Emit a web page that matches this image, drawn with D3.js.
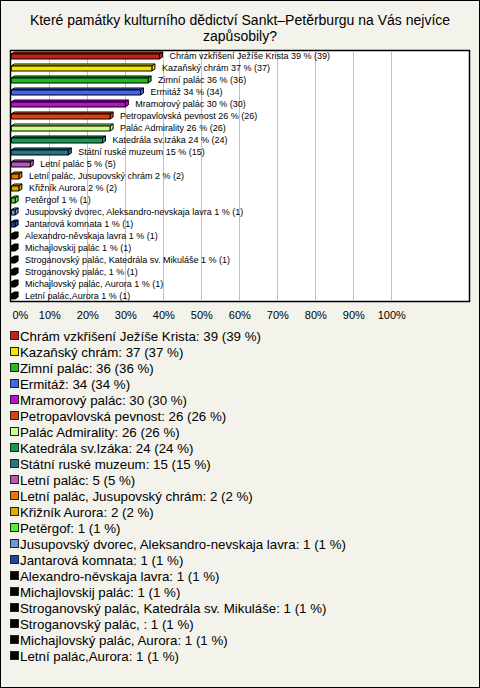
<!DOCTYPE html>
<html><head><meta charset="utf-8">
<script src="https://cdn.jsdelivr.net/npm/d3@7"></script>
<style>
html,body{margin:0;padding:0;background:#fff;}
svg{display:block;font-family:"Liberation Sans",Arial,sans-serif;}
</style></head>
<body>
<svg id="c" width="480" height="688"></svg>
<script>
const categories = [
  "Chrám vzkřišení Ježíše Krista","Kazaňský chrám","Zimní palác","Ermitáž","Mramorový palác",
  "Petropavlovská pevnost","Palác Admirality","Katedrála sv.Izáka","Státní ruské muzeum","Letní palác",
  "Letní palác, Jusupovský chrám","Křižník Aurora","Petěrgof","Jusupovský dvorec, Aleksandro-nevskaja lavra","Jantarová komnata",
  "Alexandro-něvskaja lavra","Michajlovskij palác","Stroganovský palác, Katedrála sv. Mikuláše","Stroganovský palác, ","Michajlovský palác, Aurora",
  "Letní palác,Aurora"
];
const barLabels = categories.slice();
const counts = [39,37,36,34,30,26,26,24,15,5,2,2,1,1,1,1,1,1,1,1,1];
const percents = [39,37,36,34,30,26,26,24,15,5,2,2,1,1,1,1,1,1,1,1,1];
const colors = ["#c8200c","#f5e400","#22bb22","#4466ee","#bb11cc","#e04010","#ccff88","#119955","#227788","#bb55bb",
  "#ee7700","#ddaa00","#55ee33","#6699dd","#2244aa","#000","#000","#000","#000","#000","#000"];
const tickValues = [0,10,20,30,40,50,60,70,80,90,100];
const tickLabels = ["0%","10%","20%","30%","40%","50%","60%","70%","80%","90%","100%"];
const title = ["Které památky kulturního dědictví Sankt–Petěrburgu na Vás nejvíce","zapůsobily?"];

const svg = d3.select("#c");
svg.append("rect").attr("x",0.5).attr("y",0.5).attr("width",479).attr("height",687)
  .attr("fill","#f3f3eb").attr("stroke","#000").attr("stroke-width",1);

svg.selectAll("text.title").data(title).join("text").attr("class","title")
  .attr("x",240).attr("y",(d,i)=>25+i*16).attr("text-anchor","middle")
  .attr("font-size",14).attr("fill","#000").text(d=>d);

const plot = {l:10, t:50, r:470, b:302};
const x = d3.scaleLinear().domain([0,100]).range([11.3,391.3]);
const y = d3.scaleBand().domain(d3.range(categories.length)).range([plot.t,plot.b]);

svg.append("rect").attr("x",plot.l+0.5).attr("y",plot.t+0.5)
  .attr("width",plot.r-plot.l-1).attr("height",plot.b-plot.t-1)
  .attr("fill","#fff").attr("stroke","#000").attr("stroke-width",1.5);

// grid
svg.append("g").selectAll("line").data(tickValues.slice(1)).join("line")
  .attr("x1",d=>Math.round(x(d))+0.5).attr("x2",d=>Math.round(x(d))+0.5)
  .attr("y1",plot.t+1).attr("y2",plot.b-1).attr("stroke","#c0c0c0").attr("stroke-width",1);

// axis labels
const axis = d3.axisBottom(x).tickValues(tickValues).tickFormat((d,i)=>tickLabels[i]).tickSize(0).tickPadding(0);
const ag = svg.append("g").attr("transform",`translate(0,${plot.b+17})`).call(axis);
ag.select(".domain").remove();
ag.selectAll("text").attr("font-size",11).attr("fill","#000").attr("dy",0)
  .attr("font-family","Liberation Sans, Arial, sans-serif");
ag.selectAll(".tick").filter(d=>d===0).select("text").attr("text-anchor","start").attr("x",0.7);

// 3D bars
const dx = 3, dy = 2, h = 5;
const bars = svg.append("g");
counts.forEach((v,i)=>{
  const c = y(i) + y.bandwidth()/2;
  const x0 = x(0), x1 = x(percents[i]);
  const top = c - 2;
  const g = bars.append("g").attr("stroke","#000").attr("stroke-width",1).attr("stroke-linejoin","round");
  g.append("polygon").attr("fill",colors[i])
    .attr("points",[[x0,top],[x0+dx,top-dy],[x1+dx,top-dy],[x1,top]].join(" "));
  g.append("polygon").attr("fill",colors[i])
    .attr("points",[[x1,top],[x1+dx,top-dy],[x1+dx,top-dy+h],[x1,top+h]].join(" "));
  g.append("rect").attr("fill",colors[i]).attr("x",x0).attr("y",top).attr("width",x1-x0).attr("height",h);
  svg.append("text").attr("x",x1+dx+7).attr("y",c+3).attr("font-size",9).attr("fill","#000")
    .text(`${barLabels[i]} ${percents[i]} % (${v})`);
});

// legend
const lg = svg.append("g");
categories.forEach((cat,i)=>{
  const cy = 336 + i*16;
  lg.append("rect").attr("x",10.5).attr("y",cy-4.5).attr("width",8).attr("height",8)
    .attr("fill",colors[i]).attr("stroke","#222").attr("stroke-width",1);
  lg.append("text").attr("x",20).attr("y",cy+5).attr("font-size",13.3).attr("fill","#000")
    .text(`${cat}: ${counts[i]} (${percents[i]} %)`);
});
</script>
</body></html>
